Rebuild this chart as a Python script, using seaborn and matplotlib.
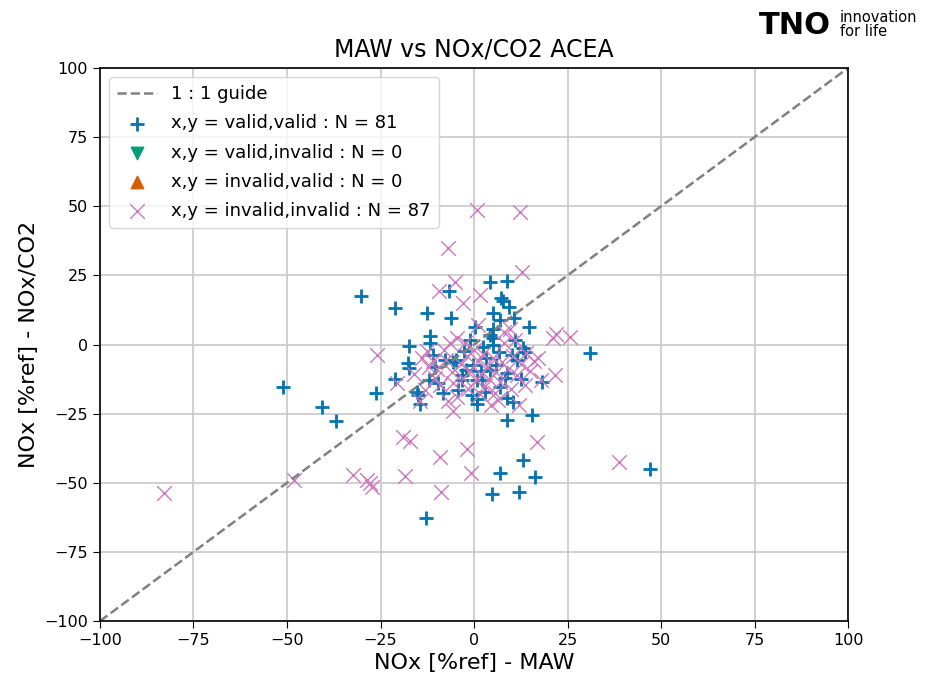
import numpy as np
import pandas as pd
import matplotlib
matplotlib.use("Agg")
import matplotlib.pyplot as plt
import seaborn as sns

# x,y = valid,valid (plus markers)
valid_x = [-51.1, -40.6, -36.9, -30.2, -26.2, -21.1, -21.1, -17.4, -17.6, -15.0,
           -14.4, -12.6, -11.8, -11.8, -11.0, -12.8, -6.7, -6.1, -10.4, -12.0,
           -8.3, -4.3, -5.6, -3.2, -15.2, 0.8, 0.8, 0.8, 0.3, 2.4,
           4.3, 4.3, 5.1, 5.1, 4.3, 5.1, 5.1, 4.8, 7.0, 7.2,
           7.8, 8.8, 7.0, 9.4, 10.7, 10.2, 8.8, 7.0, 8.8, 8.8,
           10.4, 12.6, 13.1, 12.0, 13.1, 14.7, 15.5, 16.3, 18.2, 31.0,
           47.1, -2.7, -0.3, -2.1, 1.9, 8.3, -9.6, -4.8, -17.4, -1.1,
           3.2, 6.7, -0.5, 11.0, 11.5, -7.8, 2.9, 5.9, -3.2, 13.6, 2.1]
valid_y = [-15.4, -22.6, -27.7, 17.5, -17.5, 13.2, -12.5, -0.5, -6.7, -18.3,
           -21.5, 11.4, 3.1, 0.5, -3.8, -62.7, 19.3, 9.6, -8.1, -12.8,
           -17.5, -16.5, -6.3, -11.0, -17.2, -12.8, -21.5, -19.7, 6.3, -0.9,
           -9.2, 22.6, 11.4, 5.6, 3.4, 2.4, -0.2, -54.1, -46.5, 16.8,
           15.7, 23.0, 8.9, 13.6, 9.6, -3.8, -10.3, -15.4, -27.3, -19.3,
           -20.8, -12.5, -1.3, -53.3, -41.8, 6.3, -25.5, -47.9, -13.6, -3.1,
           -45.1, -2.4, -7.4, -9.2, -9.6, -12.1, -13.9, -5.6, -8.5, 1.6,
           -4.9, -2.7, -18.3, 1.6, -5.6, -5.6, -17.2, -7.4, -12.8, -2.7, -12.8]

# x,y = invalid,invalid (x markers)
invalid_x = [-82.9, -48.1, -32.4, -28.6, -27.3, -27.8, -25.9, -19.0, -17.1, -18.4,
             -9.1, -8.8, -1.9, -0.8, 16.8, 38.8, -7.0, -5.1, -9.4, 1.6,
             12.3, 0.8, 12.8, 21.1, 21.9, 25.7, 21.7, 17.1, -6.4, -12.6,
             -14.4, -12.0, -10.5, -9.0, -7.5, -6.0, -5.5, -4.5, -3.5, -3.0,
             -2.0, -1.5, -1.0, 0.0, 0.5, 1.0, 1.5, 2.0, 2.5, 3.0,
             3.5, 4.0, 5.0, 5.5, 6.0, 7.0, 7.5, 8.0, 9.0, 10.0,
             10.5, 11.5, 12.0, 12.5, 13.5, 14.0, 15.0, 16.0, -13.0, -11.0,
             -8.0, -16.0, -20.5, -4.5, 9.5, -7.0, 4.5, -2.5, 11.0, -3.0,
             18.0, 6.5, -10.0, 8.0, -14.0, 1.0, -5.5]
invalid_y = [-53.7, -49.0, -47.2, -49.0, -51.5, -50.1, -3.8, -33.4, -34.9, -47.6,
             -40.7, -53.3, -37.8, -46.5, -35.2, -42.5, 34.9, 22.6, 19.3, 17.9,
             47.9, 48.6, 26.2, 2.4, 3.8, 2.7, -11.0, -4.9, 0.4, -2.5,
             -20.5, -8.0, -12.0, -14.5, -5.5, -10.0, -14.0, -19.0, -7.0, -12.0,
             -4.0, -16.0, -9.5, -2.0, -13.0, -6.0, -18.0, -10.5, -3.5, -15.0,
             -8.0, -12.5, -5.0, -17.5, -10.0, -13.5, -6.5, 4.5, -9.0, -16.0,
             -4.0, -11.0, -22.0, -7.0, -14.5, -3.0, -9.5, -6.0, -16.5, -6.0,
             -2.0, -10.5, -14.0, 2.5, 5.5, -20.5, -22.0, 0.5, 1.5, 15.0,
             -13.0, -20.0, -9.0, 0.5, -5.0, 7.0, -24.0]

# valid,invalid and invalid,valid groups are empty
vi_x, vi_y = [], []
iv_x, iv_y = [], []

df_valid = pd.DataFrame({"x": valid_x, "y": valid_y})
df_invalid = pd.DataFrame({"x": invalid_x, "y": invalid_y})

sns.set_style("whitegrid")
plt.rcParams['font.family'] = ['DejaVu Sans']
plt.rcParams['text.color'] = 'black'
plt.rcParams['axes.labelcolor'] = 'black'
plt.rcParams['xtick.color'] = 'black'
plt.rcParams['ytick.color'] = 'black'

pal = sns.color_palette("colorblind")

fig = plt.figure(figsize=(9.31, 6.82), dpi=100)
ax = fig.add_axes([0.1074, 0.0894, 0.8035, 0.8109])

ax.plot([-100, 100], [-100, 100], linestyle='--', color='gray', lw=1.8,
        label='1 : 1 guide')

sns.scatterplot(data=df_valid, x='x', y='y', ax=ax, marker='+', s=110,
                color=pal[0], linewidth=2,
                label=f'x,y = valid,valid : N = {len(valid_x)}')
ax.scatter(vi_x, vi_y, marker='v', s=80, color=pal[2],
           label=f'x,y = valid,invalid : N = {len(vi_x)}')
ax.scatter(iv_x, iv_y, marker='^', s=80, color=pal[3],
           label=f'x,y = invalid,valid : N = {len(iv_x)}')
sns.scatterplot(data=df_invalid, x='x', y='y', ax=ax, marker='x', s=110,
                color=pal[4], linewidth=1.0,
                label=f'x,y = invalid,invalid : N = {len(invalid_x)}')

ax.set_xlim(-100, 100)
ax.set_ylim(-100, 100)
ticks = [-100, -75, -50, -25, 0, 25, 50, 75, 100]
ax.set_xticks(ticks)
ax.set_yticks(ticks)
ax.tick_params(labelsize=11.5, length=5, color='black', direction='out',
               bottom=True, left=True)
ax.grid(True, color='#c8c8c8', lw=1.2)
for sp in ax.spines.values():
    sp.set_color('black')
    sp.set_linewidth(1.2)

ax.set_title('MAW vs NOx/CO2 ACEA', fontsize=17, pad=8)
ax.set_xlabel('NOx [%ref] - MAW', fontsize=16)
ax.set_ylabel('NOx [%ref] - NOx/CO2', fontsize=16)

leg = ax.legend(loc='upper left', fontsize=13, frameon=True, framealpha=0.8,
                edgecolor='#cccccc', borderpad=0.45, labelspacing=0.62,
                handlelength=2.2)

# TNO logo text
fig.text(0.815, 0.962, 'TNO', fontsize=22, fontweight='heavy', color='black',
         va='center', ha='left')
fig.text(0.902, 0.964, 'innovation\nfor life', fontsize=10.5, color='black',
         va='center', ha='left', linespacing=0.9)

fig.savefig('out.png', dpi=100)
